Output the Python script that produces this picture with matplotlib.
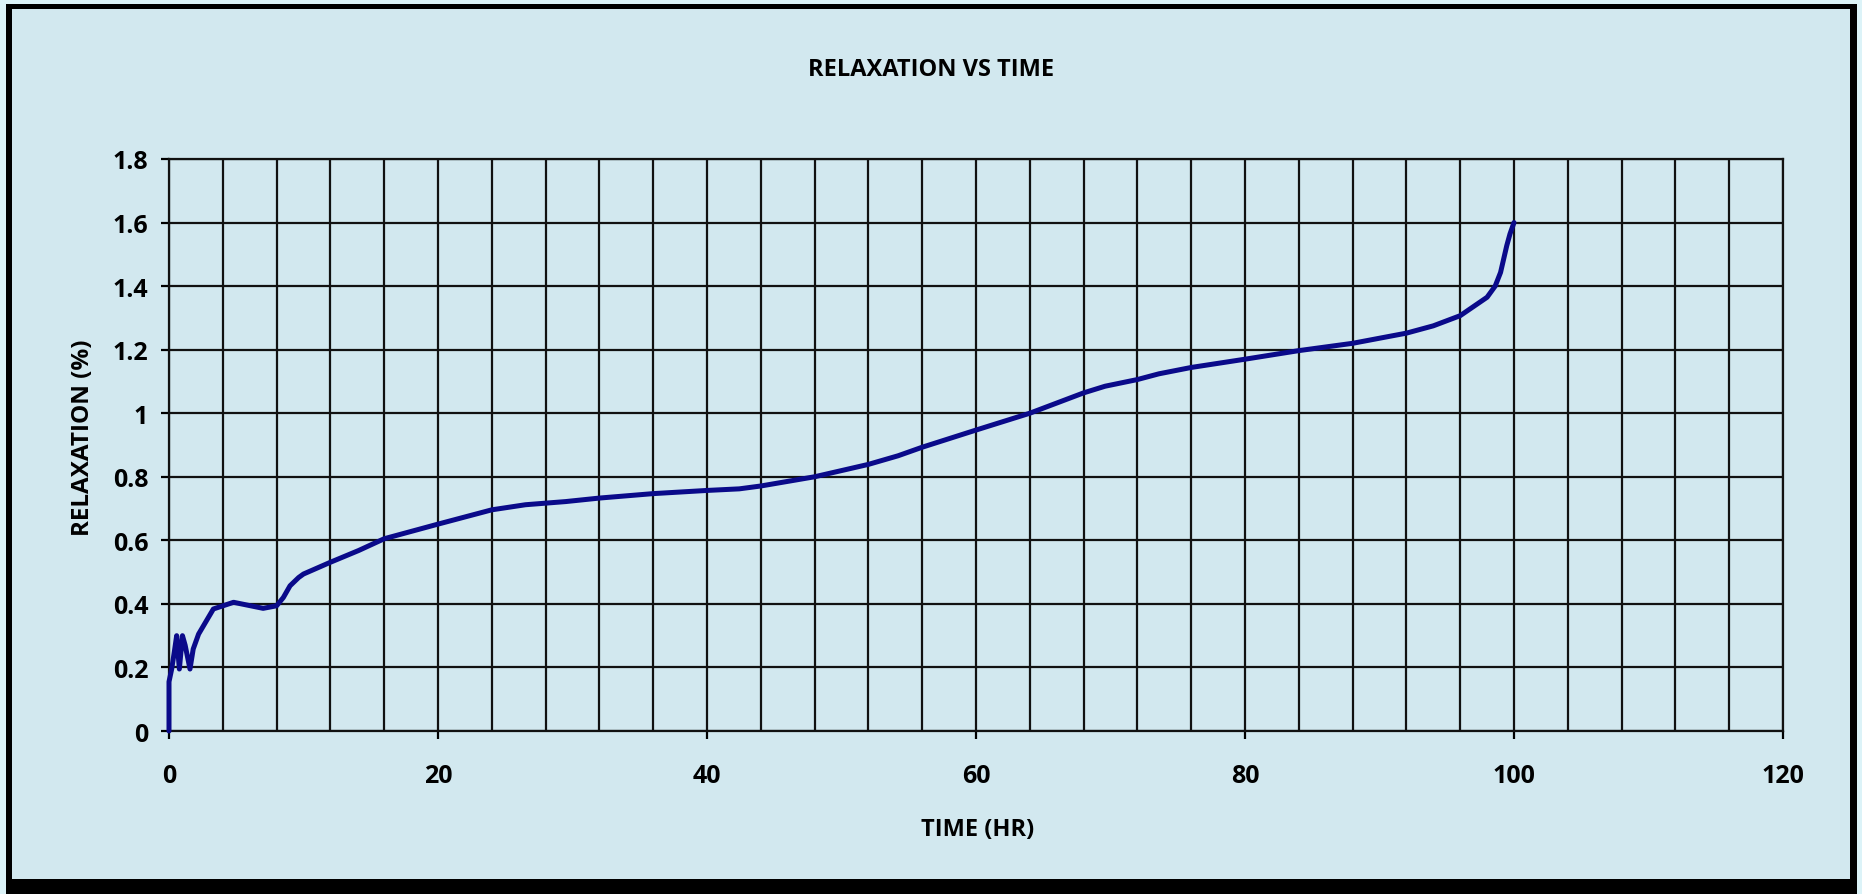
import matplotlib
matplotlib.use('Agg')
import matplotlib.pyplot as plt
from matplotlib.patches import Rectangle
from matplotlib.ticker import MultipleLocator

plt.rcParams['font.family'] = ['Open Sans', 'DejaVu Sans']

# readings
time_hr = [0, 0.0, 0.2, 0.4, 0.57, 0.77, 1.0, 1.2, 1.56, 1.8, 2.2, 3.3, 4.8, 7.0, 8.0,
           8.5, 9.0, 9.64, 10.0, 12.0, 14.1, 16.0, 20.0, 24.0, 26.5, 28.0, 29.5, 32.0,
           36.0, 40.0, 42.4, 44.0, 48.0, 52.0, 54.2, 56.0, 60.0, 64.0, 66.0, 68.0, 69.6,
           72.0, 73.6, 76.0, 80.0, 84.0, 88.0, 92.0, 94.0, 96.0, 98.0, 98.6, 99.0, 99.46,
           99.7, 100.0]
relax = [0, 0.155, 0.195, 0.25, 0.30, 0.195, 0.30, 0.27, 0.195, 0.258, 0.305, 0.384,
         0.405, 0.386, 0.394, 0.42, 0.457, 0.483, 0.494, 0.531, 0.568, 0.605, 0.651,
         0.696, 0.712, 0.717, 0.722, 0.733, 0.747, 0.757, 0.762, 0.771, 0.80, 0.839,
         0.866, 0.893, 0.947, 1.0, 1.032, 1.064, 1.085, 1.106, 1.124, 1.144, 1.17, 1.197,
         1.22, 1.252, 1.275, 1.307, 1.365, 1.40, 1.443, 1.527, 1.564, 1.6]

W, H = 1862, 895
fig = plt.figure(figsize=(W / 100, H / 100), dpi=100)
fig.patch.set_facecolor('#dcf3f8')

# black frame with light blue inner panel
fig.patches.append(Rectangle((6 / W, 0), (1857 - 6) / W, (H - 5) / H,
                             transform=fig.transFigure, facecolor='black', edgecolor='none', zorder=-2))
fig.patches.append(Rectangle((12 / W, (H - 880) / H), (1850 - 12) / W, (880 - 10) / H,
                             transform=fig.transFigure, facecolor='#d2e8ef', edgecolor='none', zorder=-1))

ax = fig.add_axes([169 / W, 1 - 732 / H, (1783 - 169) / W, (732 - 160) / H])
ax.set_zorder(1)
ax.set_facecolor('#d2e8ef')

ax.plot(time_hr, relax, color='#0a0a8a', lw=3.6, solid_capstyle='round',
        solid_joinstyle='round', zorder=3, clip_on=False)

ax.set_xlim(0, 120)
ax.set_ylim(0, 1.8)
ax.xaxis.set_major_locator(MultipleLocator(20))
ax.xaxis.set_minor_locator(MultipleLocator(4))
ax.set_yticks([0, 0.2, 0.4, 0.6, 0.8, 1.0, 1.2, 1.4, 1.6, 1.8])
ax.set_yticklabels(['0', '0.2', '0.4', '0.6', '0.8', '1', '1.2', '1.4', '1.6', '1.8'])

ax.grid(which='both', color='#111111', lw=1.6)
ax.set_axisbelow(True)
for s in ax.spines.values():
    s.set_color('#111111')
    s.set_linewidth(1.6)

ax.tick_params(axis='x', which='major', direction='out', length=6, width=1.6, pad=17,
               labelsize=18)
ax.tick_params(axis='x', which='minor', length=0)
ax.tick_params(axis='y', direction='out', length=6, width=1.6, pad=9, labelsize=18)
for lab in ax.get_xticklabels() + ax.get_yticklabels():
    lab.set_fontweight('bold')

ax.set_xlabel('TIME (HR)', fontsize=17, fontweight='bold')
ax.xaxis.set_label_coords(0.501, -0.15)
ax.set_ylabel('RELAXATION (%)', fontsize=17.5, fontweight='bold')
ax.yaxis.set_label_coords(-0.046, 0.514)

fig.text(0.5, 1 - 70 / H, 'RELAXATION VS TIME', ha='center', va='center',
         fontsize=17, fontweight='bold')

fig.savefig('out.png', dpi=100, facecolor=fig.get_facecolor())
